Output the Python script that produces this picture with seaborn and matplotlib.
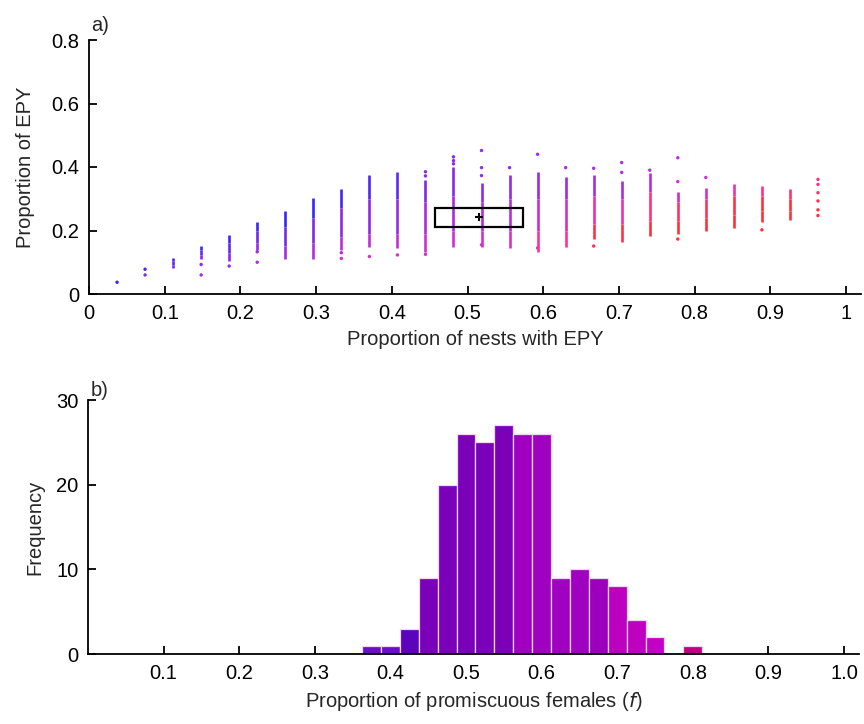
import numpy as np
import pandas as pd
import matplotlib
matplotlib.use("Agg")
import matplotlib.pyplot as plt
from matplotlib.colors import LinearSegmentedColormap
from matplotlib.patches import Rectangle
import seaborn as sns

# ---------------- data: panel a ----------------
n_nests = 27
# vertical runs of simulated values: nests with EPY, low, two colour breaks, high, and colours (bottom, middle, top)
seg_k   = [3, 4, 5, 6, 7, 8, 9, 10, 11, 12, 13, 14, 15, 16, 17, 18, 19, 20, 21, 22, 23, 24, 25]
seg_lo  = [.081, .109, .104, .140, .109, .109, .139, .149, .144, .133, .149, .149, .144, .133, .149, .172, .165, .183, .189, .199, .207, .228, .233]
seg_m1  = [.092, .122, .130, .160, .150, .160, .180, .190, .190, .190, .200, .200, .200, .200, .200, .220, .220, .230, .230, .240, .250, .260, .260]
seg_m2  = [.104, .138, .160, .200, .210, .240, .270, .300, .300, .290, .310, .290, .300, .300, .300, .310, .300, .320, .290, .300, .310, .310, .300]
seg_hi  = [.114, .152, .187, .228, .262, .301, .330, .375, .385, .360, .400, .349, .375, .385, .369, .375, .356, .380, .322, .335, .345, .341, .330]
seg_ct  = [.10, .08, .08, .06, .06, .06, .10, .12, .18, .26, .28, .32, .33, .36, .38, .42, .42, .48, .55, .60, .72, .80, .88]
seg_cm  = [.18, .20, .20, .22, .24, .26, .30, .32, .36, .42, .42, .46, .50, .55, .58, .70, .72, .85, .90, .92, .96, .98, 1.0]
seg_cb  = [.25, .30, .30, .35, .40, .45, .50, .52, .55, .58, .58, .60, .66, .78, .80, .95, .95, 1.0, 1.0, 1.0, 1.0, 1.0, 1.0]

# isolated simulated values
dot_k = [1, 2, 2, 4, 4, 5, 6, 6, 9, 9, 10, 11, 12, 12, 12, 13, 13, 13, 14, 14, 14, 14, 15,
         16, 16, 17, 18, 18, 19, 19, 20, 21, 21, 21, 22, 24, 26, 26, 26, 26, 26, 26]
dot_y = [.037, .078, .060, .093, .060, .088, .133, .100, .130, .112, .118, .123, .385, .372, .125,
         .432, .420, .410, .452, .398, .373, .155, .398, .440, .145, .398, .396, .151, .414, .383,
         .390, .429, .354, .173, .367, .202, .361, .345, .319, .293, .265, .247]
dot_c = [.05, .10, .30, .35, .40, .35, .40, .45, .50, .60, .65, .65, .30, .30, .65,
         .30, .30, .30, .35, .35, .35, .70, .35, .40, .85, .45, .45, .95, .45, .45,
         .50, .50, .60, 1.0, .60, 1.0, .80, .85, .90, .95, 1.0, 1.0]

# observed value with its interval
obs_x, obs_y = 0.515, 0.242
obs_x_lo, obs_x_hi = 0.4575, 0.5729
obs_y_lo, obs_y_hi = 0.212, 0.270

# ---------------- data: panel b ----------------
f_bins = [0.375, 0.400, 0.425, 0.450, 0.475, 0.500, 0.525, 0.550, 0.575, 0.600,
          0.625, 0.650, 0.675, 0.700, 0.725, 0.750, 0.775, 0.800]
freq   = [1, 1, 3, 9, 20, 26, 25, 27, 26, 26, 9, 10, 9, 8, 4, 2, 0, 1]
bar_colors = ["#6412c4", "#6412c4", "#5a04bc", "#7a00b9", "#7a00b9", "#7a00b9", "#7a00b9", "#7d00b9",
              "#a000c0", "#a000c0", "#a000c0", "#a000c0", "#9c00bc", "#bc00bf", "#c000c0", "#c200c6",
              "#c200c6", "#c2007c"]

# ---------------- style ----------------
sns.set_style("white")
plt.rcParams["font.family"] = ["Liberation Sans", "DejaVu Sans"]
FS = 14.5

cmap = LinearSegmentedColormap.from_list(
    "bpr", [(0.0, "#2424ff"), (0.3, "#8a2ae6"), (0.6, "#d22fd2"), (0.8, "#ff3094"), (1.0, "#ff3036")])

fig = plt.figure(figsize=(8.64, 7.24), dpi=100)
W, H = 864, 724

def style_axes(ax):
    for s in ["top", "right"]:
        ax.spines[s].set_visible(False)
    for s in ["left", "bottom"]:
        ax.spines[s].set_color("black")
        ax.spines[s].set_linewidth(1.3)
    ax.tick_params(direction="in", length=6, width=1.3, colors="black",
                   labelsize=FS, pad=7, left=True, bottom=True)

# ---- panel a ----
xmax = 1.02
ax1 = fig.add_axes([89 / W, (H - 294) / H, 757 * xmax / W, 254 / H])
segs = pd.DataFrame({"x": np.array(seg_k) / n_nests, "lo": seg_lo, "m1": seg_m1, "m2": seg_m2,
                     "hi": seg_hi, "ct": seg_ct, "cm": seg_cm, "cb": seg_cb})
ax1.vlines(segs["x"], segs["m2"], segs["hi"], colors=cmap(segs["ct"].to_numpy()), linewidth=1.9)
ax1.vlines(segs["x"], segs["m1"], segs["m2"], colors=cmap(segs["cm"].to_numpy()), linewidth=1.9)
ax1.vlines(segs["x"], segs["lo"], segs["m1"], colors=cmap(segs["cb"].to_numpy()), linewidth=1.9)
dots = pd.DataFrame({"x": np.array(dot_k) / n_nests, "y": dot_y, "c": dot_c})
sns.scatterplot(data=dots, x="x", y="y", hue="c", palette=cmap, hue_norm=(0, 1),
                s=6, marker="o", linewidth=0, legend=False, ax=ax1)
ax1.add_patch(Rectangle((obs_x_lo, obs_y_lo), obs_x_hi - obs_x_lo, obs_y_hi - obs_y_lo,
                        fill=False, edgecolor="black", linewidth=1.6, zorder=5))
ax1.plot([obs_x], [obs_y], marker="+", color="black", markersize=6, mew=1.5, zorder=6)
ax1.set_xlim(0, xmax)
ax1.set_ylim(0, 0.8)
ax1.set_xticks(np.arange(0, 1.01, 0.1))
ax1.set_xticklabels(["0", "0.1", "0.2", "0.3", "0.4", "0.5", "0.6", "0.7", "0.8", "0.9", "1"])
ax1.set_yticks([0, 0.2, 0.4, 0.6, 0.8])
ax1.set_yticklabels(["0", "0.2", "0.4", "0.6", "0.8"])
ax1.set_xlabel("Proportion of nests with EPY", fontsize=FS, labelpad=5)
ax1.set_ylabel("Proportion of EPY", fontsize=FS, labelpad=12)
style_axes(ax1)
ax1.text(0.003, 1.02, "a)", transform=ax1.transAxes, fontsize=FS, va="bottom", ha="left")

# ---- panel b ----
ax2 = fig.add_axes([88 / W, (H - 654) / H, 756 * xmax / W, 254 / H])
sns.histplot(x=f_bins, weights=freq, binwidth=0.025, binrange=(0.3625, 0.8125),
             ax=ax2, edgecolor="#f2d6fa", linewidth=0.9, alpha=1)
for p, c in zip(ax2.patches, bar_colors):
    p.set_facecolor(c)
ax2.set_xlim(0, xmax)
ax2.set_ylim(0, 30)
ax2.set_xticks(np.arange(0.1, 1.01, 0.1))
ax2.set_xticklabels(["0.1", "0.2", "0.3", "0.4", "0.5", "0.6", "0.7", "0.8", "0.9", "1.0"])
ax2.set_yticks([0, 10, 20, 30])
ax2.set_yticklabels(["0", "10", "20", "30"])
ax2.set_xlabel("Proportion of promiscuous females ($\\it{f}$)", fontsize=FS, labelpad=5)
ax2.set_ylabel("Frequency", fontsize=FS, labelpad=8)
style_axes(ax2)
ax2.text(0.003, 1.0, "b)", transform=ax2.transAxes, fontsize=FS, va="bottom", ha="left")

fig.savefig("out.png", dpi=100)
